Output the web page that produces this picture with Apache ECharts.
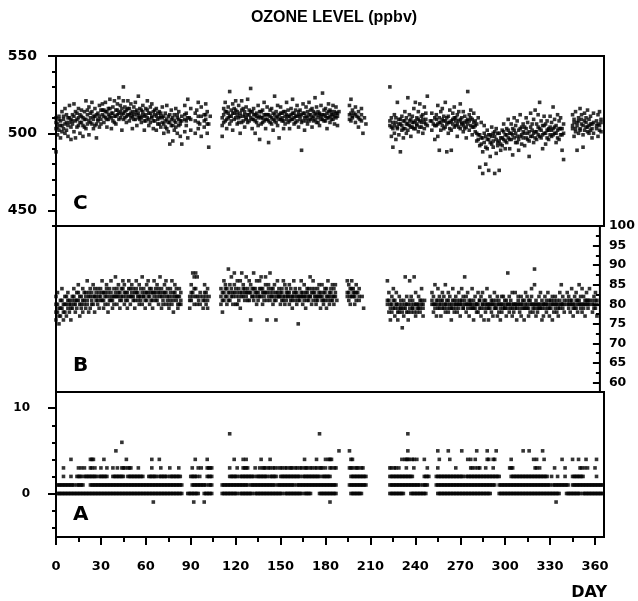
<!DOCTYPE html>
<html><head><meta charset="utf-8">
<script src="https://cdn.jsdelivr.net/npm/echarts@6/dist/echarts.min.js"></script>
<style>html,body{margin:0;padding:0;background:#fff}#chart{width:638px;height:601px}</style>
</head><body><div id="chart"></div>
<script>
// ---- tick / label values ----
const dayLabels = [0,30,60,90,120,150,180,210,240,270,300,330,360];
const dayMinorTicks = [15,45,75,105,135,165,195,225,255,285,315,345];
const cLabels = [450,500,550];
const cMinorTicks = [440,460,470,480,490,510,520,530,540];
const bLabels = [60,65,70,75,80,85,90,95,100];
const bMinorTicks = [62.5,67.5,72.5,77.5,82.5,87.5,92.5,97.5];
const aLabels = [0,10];
const aMinorTicks = [-4,-2,2,4,6,8];

// ---- Panel C: [day, value, value, ...] ----
const ozoneCRows = [
[0,488,503,510],[1,506,499],[2,511,502],[3,497,508],[4,514,505],[5,503,509],[6,516,500],[7,507,512],[8,498,505],[9,510,518],[10,504,496],
[11,512,506],[12,519,501],[13,508,497],[14,504,513],[15,510,516],[16,500,507],[17,511,515],[18,505,498],[19,514,509],[20,521,503],
[21,506,512],[22,499,517],[23,510,507],[24,514,520],[25,503,509],[26,511,516],[27,497,506],[28,513,508],[29,518,504],[30,509,515],
[31,512,519],[32,507,515],[33,520,510],[34,504,514],[35,516,509],[36,522,511],[37,513,503],[38,517,508],[39,511,521],[40,515,506],
[41,519,512],[42,509,523],[43,514,518],[44,502,516],[45,530,513,521],[46,510,517],[47,515,507],[48,521,512],[49,508,516],[50,513,519],
[51,511,503],[52,517,509],[53,514,520],[54,505,512],[55,524,510],[56,509,516],[57,515,507],[58,512,518],[59,502,511],[60,516,508],
[61,510,521],[62,513,505],[63,507,517],[64,519,511],[65,503,514],[66,512,508],[67,516,502],[68,509,513],[69,514,506],[70,504,511],
[71,510,517],[72,506,500],[73,513,508],[74,518,503],[75,501,511],[76,493,507],[77,509,515],[78,495,505],[79,512,502],[80,507,516],
[81,500,510],[82,514,505],[83,508,498],[84,493,511],[86,518,509,501],[87,513,505],[88,522,497],[89,510],[90,516,502],
[93,508,500],[94,515],[95,520,511,503],[96,506],[97,517,498],[99,512,504],[100,509,519],[101,514,500],[102,491,506],[103,511],
[111,505,498],[112,512,516],[113,508,520],[114,514,503],[115,517,510],[116,527,506],[117,511,515],[118,519,502],[119,509,513],[120,515,521],
[121,506,512],[122,518,510],[123,513,500],[124,521,507],[125,511,516],[126,504,514],[127,517,509],[128,512,522],[129,508,515],[130,529,510],
[131,514,503],[132,509,516],[133,500,512],[134,513,507],[135,518,505],[136,511,496],[137,506,514],[138,515,510],[139,520,508],[140,503,512],
[141,509,517],[142,512,494],[143,507,515],[144,516,510],[145,513,502],[146,524,508],[147,510,514],[148,505,518],[149,512,497],[150,517,509],
[151,508,513],[152,514,503],[153,506,511],[154,520,509],[155,511,515],[156,503,508],[157,516,512],[158,509,522],[159,513,506],[160,507,515],
[161,511,518],[162,504,512],[163,515,509],[164,489,507],[165,513,519],[166,510,502],[167,517,508],[168,506,514],[169,512,520],[170,509,515],
[171,516,504],[172,511,508],[173,523,513],[174,507,517],[175,514,510],[176,505,512],[177,518,509],[178,512,526],[179,508,515],[180,516,511],
[181,503,513],[182,510,519],[183,515,507],[184,509,514],[185,512,518],[186,506,511],[187,517,513],[188,511,505],[189,514],
[196,512,518],[197,522,508],[198,515,510],[199,513],[200,507,517],[201,511],[202,504,514],[203,509],[204,516,512],[205,500],[206,510],[207,506],
[223,530,505],[224,510,498],[225,503,491],[226,512,500],[227,507,496],[228,520,504],[229,499,509],[230,506,488],[231,502,511],[232,508,497],
[233,514,503],[234,500,510],[235,523,506],[236,505,512],[237,498,509],[238,511,504],[239,507,516],[240,503,520],
[241,510,506],[242,514,501],[243,508,519],[244,504,511],[245,512,500],[246,517,507],[247,509,513],[248,524,505],
[250,508],[251,513,502],[252,506],[253,510,496],[254,512,505],[255,498,518],[256,507,489],[257,514,502],[258,509,516],[259,503,511],[260,520,508],
[261,506,488],[262,511,500],[263,515,507],[264,502,489],[265,509,513],[266,517,504],[267,505,510],[268,512,498],[269,508,514],[270,503,519],
[271,510,506],[272,514,501],[273,507,511],[274,497,504],[275,527,509],[276,512,502],[277,505,515],[278,509,499],[279,513,504],[280,501,508],
[281,506,495],[282,499,510],[283,492,478],[284,497,507],[285,488,474],[286,494,505],[287,480,498],[288,502,490],[289,496,476],[290,485,499],
[291,504,493],[292,491,500],[293,498,474],[294,487,503],[295,500,494],[296,495,476],[297,489,497],[298,502,492],[299,496,506],[300,499,490],
[301,503,494],[302,497,509],[303,490,500],[304,506,496],[305,499,486],[306,502,510],[307,494,505],[308,508,498],[309,496,489],[310,503,512],
[311,499,493],[312,506,501],[313,492,504],[314,510,497],[315,500,507],[316,495,485],[317,504,513],[318,498,502],[319,509,494],[320,501,515],
[321,496,506],[322,512,499],[323,520,503],[324,497,508],[325,505,490],[326,500,511],[327,493,506],[328,508,502],[329,503,496],[330,511,499],
[331,498,507],[332,517,503],[333,500,509],[334,505,494],[335,512,502],[336,496,508],[337,503,510],[338,489,499],[339,483,506],
[345,505,512],[346,498,509],[347,514,503],[348,507,489],[349,510,500],[350,503,516],[351,512,506],[352,499,491],[353,508,513],[354,504,510],
[355,515,501],[356,509,505],[357,502,511],[358,506,497],[359,513,500],[361,508,503],[362,512,498],[363,505,514],[364,501,509]
];
// additional Panel C readings near the band centre: [day, value]
const ozoneCCore = [
[0,507],[1,504],[2,509],[3,505],[4,501],[5,511],[6,506],[7,502],[8,510],[9,507],[10,509],
[11,508],[12,511],[13,514],[14,509],[15,505],[16,512],[17,507],[18,510],[19,504],[20,509],[21,515],[22,508],[23,513],[24,506],[25,511],[26,505],[27,512],[28,509],[29,511],[30,506],
[31,515],[32,511],[33,514],[34,509],[35,512],[36,516],[37,510],[38,513],[39,507],[40,511],[41,515],[42,513],[43,510],[44,512],[45,509],[46,514],[47,511],[48,516],[49,512],[50,510],
[51,514],[52,512],[53,509],[54,515],[55,513],[56,511],[57,510],[58,514],[59,508],[60,512],[61,515],[62,509],[63,513],[64,510],[65,508],[66,515],[67,511],[68,506],[69,510],[70,513],
[71,507],[72,511],[73,504],[74,509],[75,507],[76,512],[77,505],[78,510],[79,508],[80,504],[81,512],[82,509],[83,506],[84,508],
[86,512],[87,508],[88,510],[90,509],[93,513],[95,507],[97,511],[99,508],[100,512],[101,506],
[111,510],[112,507],[113,514],[114,509],[115,513],[116,511],[117,508],[118,513],[119,516],[120,510],[121,514],[122,507],[123,511],[124,515],[125,508],[126,512],[127,510],[128,507],[129,512],[130,514],
[131,509],[132,512],[133,508],[134,511],[135,510],[136,514],[137,510],[138,507],[139,512],[140,509],[141,512],[142,508],[143,511],[144,506],[145,509],[146,512],[147,507],[148,511],[149,509],[150,513],
[151,510],[152,508],[153,514],[154,512],[155,507],[156,511],[157,509],[158,513],[159,510],[160,511],
[161,508],[162,514],[163,511],[164,512],[165,508],[166,513],[167,511],[168,510],[169,508],[170,512],[171,510],[172,514],[173,509],[174,512],[175,507],[176,513],[177,511],[178,509],[179,512],[180,508],
[181,510],[182,514],[183,511],[184,512],[185,509],[186,514],[187,510],[188,513],
[196,509],[197,513],[198,511],[200,512],[202,510],[204,508],
[223,508],[224,504],[225,507],[226,505],[227,510],[228,503],[229,506],[230,509],[231,505],[232,503],[233,508],[234,506],[235,502],[236,508],[237,504],[238,507],[239,503],[240,508],
[241,505],[242,509],[243,504],[244,507],[245,509],[246,503],[247,506],
[251,508],[253,505],[254,509],[255,506],[256,510],[257,507],[258,505],[259,508],[260,504],[261,510],[262,507],[263,503],[264,508],[265,506],[266,510],[267,508],[268,506],[269,504],[270,509],
[271,507],[272,505],[273,503],[274,508],[275,506],[276,508],[277,510],[278,504],[279,507],[280,505],
[281,500],[282,496],[283,499],[284,493],[285,497],[286,500],[287,491],[288,496],[289,499],[290,494],[291,498],[292,495],[293,501],[294,496],[295,492],[296,500],[297,493],[298,497],[299,501],[300,495],
[301,499],[302,502],[303,496],[304,500],[305,503],[306,497],[307,500],[308,494],[309,502],[310,498],[311,504],[312,497],[313,500],[314,503],[315,496],[316,501],[317,498],[318,506],[319,500],[320,497],
[321,501],[322,504],[323,498],[324,502],[325,499],[326,505],[327,500],[328,497],[329,502],[330,504],
[331,502],[332,499],[333,504],[334,500],[335,497],[336,503],[337,499],[338,503],[339,500],
[345,503],[346,507],[347,501],[348,505],[349,508],[350,502],[351,509],[352,505],[353,502],[354,507],[355,504],[356,500],[357,506],[358,503],[359,507],[361,505],[362,506],[363,502],[364,507]
];

// ---- Panel B: [day, value, value, ...] ----
const ozoneBRows = [
[0,76,80,82],[1,78,83],[2,75,79],[3,81,77],[4,79,84],[5,76,80],[6,82,78],[7,80,77],[8,83,79],[9,78,81],[10,80,76],
[11,82,79],[12,84,80],[13,81,78],[14,79,83],[15,85,81],[16,80,77],[17,82,79],[18,78,84],[19,81,80],[20,83,79],
[21,80,86],[22,82,78],[23,79,84],[24,81,83],[25,85,80],[26,78,82],[27,83,81],[28,80,84],[29,82,79],[30,84,81],
[31,81,86],[32,79,83],[33,83,80],[34,85,82],[35,80,78],[36,82,84],[37,86,81],[38,81,79],[39,84,82],[40,83,87],
[41,80,82],[42,82,85],[43,79,83],[44,84,81],[45,82,86],[46,85,80],[47,81,83],[48,83,79],[49,86,82],[50,80,84],
[51,82,85],[52,84,81],[53,79,83],[54,83,86],[55,81,82],[56,85,80],[57,82,84],[58,80,87],[59,84,82],[60,83,79],
[61,81,85],[62,86,83],[63,82,80],[64,84,81],[65,79,83],[66,83,86],[67,81,84],[68,85,82],[69,80,83],[70,82,87],
[71,84,79],[72,81,83],[73,83,85],[74,86,80],[75,82,84],[76,79,82],[77,84,81],[78,80,86],[79,83,78],[80,85,82],
[81,81,84],[82,82,79],[83,84,80],[84,80,83],
[90,82,79],[91,85,81],[92,88,83],[93,87,80],[94,88,84],[95,87,82],[96,81],[97,83,80],[99,82,79],[100,85,81],[101,80,83],[102,84,79],[103,82],
[111,80,84],[112,83,78],[113,86,81],[114,82,85],[115,84,80],[116,89,83],[117,81,85],[118,87,82],[119,83,80],[120,85,88],
[121,82,84],[122,80,86],[123,84,82],[124,86,79],[125,88,83],[126,82,85],[127,84,81],[128,87,83],[129,81,84],[130,83,86],
[131,85,76],[132,82,84],[133,88,81],[134,84,83],[135,80,86],[136,83,82],[137,86,84],[138,82,87],[139,84,80],[140,81,83],
[141,87,85],[142,83,76],[143,85,82],[144,88,81],[145,82,84],[146,84,80],[147,81,85],[148,83,76],[149,86,82],[150,82,84],
[151,80,83],[152,84,81],[153,82,86],[154,85,80],[155,81,83],[156,83,82],[157,80,85],[158,84,81],[159,82,79],[160,86,83],
[161,81,84],[162,83,80],[163,75,82],[164,84,81],[165,82,86],[166,80,83],[167,85,82],[168,83,79],[169,81,84],[170,84,82],
[171,82,87],[172,80,83],[173,86,81],[174,83,84],[175,81,80],[176,84,82],[177,82,85],[178,79,83],[179,85,81],[180,83,80],
[181,81,84],[182,84,79],[183,86,82],[184,80,83],[185,83,81],[186,82,85],[187,80,84],[188,85,82],[189,81],
[196,83,86],[197,81,85],[198,84,80],[199,86,82],[200,82,84],[201,80,83],[202,85,81],[203,83],[204,81,84],[206,82],[207,79],
[223,81,86],[224,78,83],[225,80,76],[226,82,78],[227,79,84],[228,77,81],[229,80,83],[230,76,79],[231,82,78],[232,79,81],
[233,74,80],[234,81,77],[235,87,79],[236,78,82],[237,80,76],[238,86,79],[239,82,78],[240,79,81],[241,87,80],[242,77,83],
[243,80,78],[244,82,79],[245,78,81],[246,84,80],[247,79,77],[248,81],
[253,80,83],[254,78,82],[255,85,80],[256,81,77],[257,79,84],[258,82,80],[259,77,81],[260,83,79],
[261,80,82],[262,85,78],[263,81,79],[264,78,83],[265,82,80],[266,79,76],[267,84,81],[268,80,78],[269,82,79],[270,78,81],
[271,83,80],[272,80,77],[273,81,84],[274,79,82],[275,87,80],[276,82,78],[277,80,83],[278,77,81],[279,81,79],[280,84,80],
[281,79,76],[282,82,80],[283,80,78],[284,78,83],[285,81,79],[286,77,82],[287,83,80],[288,79,76],[289,81,78],[290,80,84],
[291,76,79],[292,82,80],[293,78,81],[294,80,77],[295,83,79],[296,79,81],[297,77,82],[298,81,78],[299,80,76],[300,78,82],
[301,82,79],[302,79,81],[303,80,77],[304,88,80],[305,78,82],[306,81,79],[307,77,83],[308,80,78],[309,83,80],[310,79,76],
[311,81,82],[312,78,80],[313,82,77],[314,80,79],[315,76,81],[316,83,79],[317,79,82],[318,81,77],[319,78,80],[320,82,84],
[321,80,78],[322,89,85,79],[323,81,77],[324,78,80],[325,82,79],[326,79,83],[327,81,76],[328,77,80],[329,80,82],[330,78,81],
[331,83,79],[332,79,77],[333,81,80],[334,76,82],[335,80,78],[336,82,79],[337,78,81],[338,80,77],[339,83,79],[340,85,80],
[341,79,82],[342,81,78],[344,80,83],[345,82,79],[346,78,81],[347,84,80],[348,80,77],[349,82,79],[350,79,83],
[351,81,78],[352,85,80],[353,80,82],[354,78,84],[355,82,79],[356,80,77],[357,83,81],[358,79,80],[359,81,84],
[361,80,78],[362,82,79],[363,79,83],[364,81,77]
];
// additional Panel B readings near the band centre: [day, value]
const ozoneBCore = [
[0,78],[1,80],[2,77],[3,79],[4,81],[5,78],[6,80],[7,82],[8,81],[9,80],[10,79],[11,81],[12,82],[13,80],[14,81],[15,83],[16,82],[17,80],[18,81],[19,83],[20,82],
[21,81],[22,83],[23,82],[24,80],[25,82],[26,84],[27,82],[28,81],[29,83],[30,82],[31,83],[32,81],[33,82],[34,84],[35,83],[36,81],[37,83],[38,82],[39,80],[40,82],
[41,84],[42,83],[43,81],[44,82],[45,84],[46,83],[47,82],[48,81],[49,84],[50,82],[51,83],[52,82],[53,81],[54,84],[55,83],[56,82],[57,81],[58,83],[59,82],[60,81],
[61,83],[62,82],[63,84],[64,83],[65,81],[66,82],[67,83],[68,81],[69,84],[70,83],[71,82],[72,80],[73,82],[74,83],[75,81],[76,80],[77,83],[78,82],[79,81],[80,83],
[81,82],[82,80],[83,82],[84,81],
[90,81],[91,83],[92,82],[93,84],[94,82],[95,80],[97,82],[99,81],[100,83],[101,82],[102,81],
[111,82],[112,81],[113,83],[114,84],[115,82],[116,81],[117,83],[118,84],[119,82],[120,83],[121,80],[122,83],[123,81],[124,83],[125,82],[126,84],[127,83],[128,82],[129,83],[130,81],
[131,83],[132,82],[133,84],[134,82],[135,83],[136,81],[137,82],[138,84],[139,83],[140,82],[141,83],[142,81],[143,84],[144,83],[145,82],[146,83],[147,82],[148,81],[149,83],[150,82],
[151,82],[152,83],[153,81],[154,82],[155,84],[156,82],[157,83],[158,82],[159,81],[160,82],[161,83],[162,82],[163,81],[164,82],[165,83],[166,82],[167,81],[168,82],[169,83],[170,81],
[171,82],[172,84],[173,83],[174,82],[175,82],[176,81],[177,83],[178,82],[179,82],[180,81],[181,83],[182,82],[183,81],[184,82],[185,84],[186,81],[187,82],[188,83],
[196,82],[197,83],[198,82],[199,84],[200,83],[201,82],[202,83],[204,82],
[223,80],[224,81],[225,79],[226,80],[227,81],[228,79],[229,80],[230,78],[231,80],[232,79],[233,78],[234,79],[235,80],[236,80],[237,78],[238,81],[239,80],[240,79],[241,78],[242,80],
[243,79],[244,80],[245,79],[246,81],[247,80],
[253,81],[254,80],[255,79],[256,80],[257,81],[258,79],[259,80],[260,81],[261,79],[262,80],[263,80],[264,81],[265,79],[266,80],[267,79],[268,81],[269,80],[270,80],
[271,79],[272,81],[273,80],[274,79],[275,81],[276,80],[277,79],[278,80],[279,80],[280,79],[281,81],[282,79],[283,80],[284,80],[285,81],[286,79],[287,80],[288,81],[289,80],[290,79],
[291,80],[292,79],[293,80],[294,81],[295,80],[296,79],[297,80],[298,80],[299,79],[300,80],[301,80],[302,79],[303,81],[304,79],[305,80],[306,80],[307,79],[308,80],[309,79],[310,80],
[311,80],[312,79],[313,80],[314,81],[315,79],[316,80],[317,80],[318,79],[319,81],[320,80],[321,79],[322,80],[323,80],[324,79],[325,80],[326,80],[327,79],[328,80],[329,79],[330,80],
[331,80],[332,81],[333,79],[334,80],[335,81],[336,80],[337,80],[338,79],[339,81],[340,80],[341,80],[342,80],[344,81],[345,80],[346,80],[347,81],[348,79],[349,80],[350,81],
[351,80],[352,81],[353,79],[354,80],[355,80],[356,81],[357,80],[358,81],[359,80],[361,81],[362,80],[363,81],[364,80]
];

// ---- Panel A: days on which each integer level occurs ----
const aLevelMinus1Days = [65,92,99,183,334];
const aLevel0Days = [1,2,3,4,5,6,7,8,9,10,11,12,13,14,15,16,17,18,19,20,21,22,23,24,25,26,27,28,29,30,31,32,33,34,35,36,37,38,39,40,41,42,43,44,45,46,47,48,49,50,51,52,53,54,55,56,57,58,59,60,61,62,63,64,65,66,67,68,69,70,71,72,73,74,75,76,77,78,79,80,81,82,83,84,
88,89,90,91,92,93,94,95,99,100,101,102,103,104,
111,112,113,114,115,116,117,118,119,120,121,123,124,125,126,127,128,129,130,131,
133,134,135,136,137,138,139,140,141,142,143,144,145,146,147,148,149,150,151,153,154,155,156,157,158,159,160,161,162,163,164,
166,167,168,169,170,176,177,178,179,180,181,182,183,184,185,186,187,197,198,199,200,201,202,203,204,
223,224,225,226,227,228,229,230,231,232,237,238,239,240,241,242,243,244,245,246,247,
255,256,257,258,259,260,261,262,263,264,265,266,267,268,269,270,271,272,273,274,275,276,277,278,279,280,281,282,283,284,285,286,287,288,289,290,
296,297,298,299,300,301,302,303,304,305,306,307,308,309,310,311,312,313,314,315,316,317,318,319,320,321,322,323,324,325,326,327,328,329,330,331,332,333,334,335,336,
341,342,343,344,345,346,347,348,349,350,352,353,354,355,356,357,358,359,360,361,362,363,364,365];
const aLevel1Days = [1,2,3,4,5,6,7,8,9,10,11,12,14,15,16,17,18,
23,24,25,26,27,28,29,30,31,32,33,34,35,36,37,38,39,40,41,42,43,44,45,46,47,48,49,50,51,52,53,54,55,56,57,58,59,60,61,62,63,64,65,66,67,68,69,70,71,72,73,74,75,76,77,78,79,80,81,82,83,84,
91,92,93,94,95,96,97,98,99,100,102,103,104,
111,112,113,114,115,116,117,118,119,120,121,122,123,124,125,126,127,128,130,131,132,133,134,135,136,137,138,139,140,141,142,143,144,145,146,
148,149,150,151,152,153,154,155,156,157,158,159,161,162,163,164,165,166,167,168,169,170,171,172,173,174,175,176,177,178,179,180,181,182,183,184,185,186,187,
196,197,198,199,200,201,202,203,204,205,206,207,
223,224,225,226,227,228,229,230,231,232,233,234,235,236,237,238,239,240,241,242,243,245,246,247,248,
254,255,256,257,258,259,260,261,262,263,264,265,266,267,268,269,270,271,272,273,274,275,276,277,278,279,280,281,282,283,284,285,286,287,288,289,290,291,292,293,
296,297,298,299,300,301,302,303,304,305,306,307,308,309,310,311,312,313,314,315,316,317,318,319,320,321,322,323,324,325,326,327,328,329,330,
332,333,334,335,336,337,338,339,340,341,342,345,346,347,348,349,350,351,352,353,354,355,356,357,358,359,360,361,362,363,364,365];
const aLevel2Days = [5,10,14,15,16,17,19,20,21,22,23,24,25,26,27,29,30,31,32,33,34,38,39,40,41,42,43,44,45,
48,49,50,51,52,53,54,55,56,57,58,62,63,64,65,66,67,69,70,71,72,73,74,76,77,78,79,80,81,82,83,
90,91,92,93,94,96,101,102,103,104,116,117,118,119,120,121,123,124,125,126,127,128,129,130,131,132,
134,135,136,137,138,139,140,141,143,144,145,146,147,150,151,152,153,154,155,156,157,158,159,160,161,162,163,
165,166,167,168,169,170,171,172,173,174,175,176,178,179,180,181,182,183,
197,198,199,200,201,202,203,204,205,206,207,
223,224,225,226,227,228,229,230,231,232,233,234,235,236,237,238,246,247,248,249,
254,255,256,257,258,259,260,261,262,263,264,265,266,267,268,269,270,271,272,
274,275,276,277,278,279,280,281,282,283,284,285,286,287,288,289,290,291,292,293,294,295,296,
304,305,306,307,308,309,310,311,312,313,314,315,316,317,318,319,320,321,322,323,324,325,326,327,328,
331,335,340,345,346,347,348,349,350,351,352,361];
const aLevel3Days = [5,15,17,19,23,24,26,30,34,38,41,44,45,46,48,49,50,55,64,70,76,82,91,95,97,101,102,103,104,
116,121,125,126,127,128,133,136,138,139,140,142,143,145,146,148,150,151,153,154,156,157,158,160,161,163,
164,166,167,168,170,171,173,174,176,177,178,180,183,184,186,187,196,197,198,200,201,202,204,205,
223,224,226,227,229,234,239,248,255,267,277,278,280,282,283,287,292,303,304,305,320,321,323,333,340,350,351,353,355,360];
const aLevel4Days = [10,23,24,25,32,47,64,69,93,101,119,125,127,137,143,166,174,180,182,183,184,197,198,
231,233,234,235,236,238,239,241,246,256,263,275,277,280,288,289,292,293,304,319,321,326,338,345,349,354,361];
const aLevel5Days = [40,189,196,235,255,262,271,281,288,294,312,316,325];
const aLevel6Days = [44];
const aLevel7Days = [116,176,235];

// ---- build series data ----
function flattenRows(rows){ const out=[]; rows.forEach(r=>{ for(let i=1;i<r.length;i++) out.push([r[0], r[i]]); }); return out; }
const cData = flattenRows(ozoneCRows).concat(flattenRows(ozoneCCore));
const bData = flattenRows(ozoneBRows).concat(flattenRows(ozoneBCore));
const aLevels = [[-1,aLevelMinus1Days],[0,aLevel0Days],[1,aLevel1Days],[2,aLevel2Days],[3,aLevel3Days],[4,aLevel4Days],[5,aLevel5Days],[6,aLevel6Days],[7,aLevel7Days]];
const aData = []; aLevels.forEach(([lv,days])=>days.forEach(d=>aData.push([d,lv])));

const FONT = 'DejaVu Sans';
const K = '#000';
const noLine = {show:false,onZero:false};
const hiddenX = (g)=>({type:'value',gridIndex:g,min:0,max:366,show:false,axisLine:noLine});
const gridBox = (top,h)=>({left:56,top:top,width:548,height:h,show:true,borderColor:K,borderWidth:2,backgroundColor:'transparent'});
const DOT = 3.6;

const option = {
  animation:false,
  backgroundColor:'#fff',
  grid:[gridBox(56,170),gridBox(226,166),gridBox(392,145)],
  xAxis:[
    hiddenX(0), hiddenX(1),
    {type:'value',gridIndex:2,min:0,max:366,position:'bottom',
      axisLine:noLine,splitLine:{show:false},
      axisTick:{show:true,length:8,inside:false,customValues:dayLabels,lineStyle:{color:K,width:2}},
      axisLabel:{show:true,customValues:dayLabels,margin:23,color:K,fontFamily:FONT,fontWeight:'bold',fontSize:13}},
    {type:'value',gridIndex:2,min:0,max:366,position:'bottom',
      axisLine:noLine,splitLine:{show:false},axisLabel:{show:false},
      axisTick:{show:true,length:5,inside:false,customValues:dayMinorTicks,lineStyle:{color:K,width:2}}}
  ],
  yAxis:[
    {type:'value',gridIndex:0,min:440,max:550,position:'left',
      axisLine:noLine,splitLine:{show:false},
      axisTick:{show:true,length:8,customValues:cLabels,lineStyle:{color:K,width:2}},
      axisLabel:{show:true,customValues:cLabels,margin:19,color:K,fontFamily:FONT,fontWeight:'bold',fontSize:14}},
    {type:'value',gridIndex:0,min:440,max:550,position:'left',
      axisLine:noLine,splitLine:{show:false},axisLabel:{show:false},
      axisTick:{show:true,length:4,customValues:cMinorTicks,lineStyle:{color:K,width:2}}},
    {type:'value',gridIndex:1,min:57.6,max:100,position:'right',
      axisLine:noLine,splitLine:{show:false},
      axisTick:{show:true,inside:true,length:7,customValues:bLabels,lineStyle:{color:K,width:2}},
      axisLabel:{show:true,inside:false,customValues:bLabels,margin:9,color:K,fontFamily:FONT,fontWeight:'bold',fontSize:12.5}},
    {type:'value',gridIndex:1,min:57.6,max:100,position:'right',
      axisLine:noLine,splitLine:{show:false},axisLabel:{show:false},
      axisTick:{show:true,inside:true,length:4,customValues:bMinorTicks,lineStyle:{color:K,width:2}}},
    {type:'value',gridIndex:2,min:-5.1,max:11.9,position:'left',
      axisLine:noLine,splitLine:{show:false},
      axisTick:{show:true,length:8,customValues:aLabels,lineStyle:{color:K,width:2}},
      axisLabel:{show:true,customValues:aLabels,margin:26,color:K,fontFamily:FONT,fontWeight:'bold',fontSize:12}},
    {type:'value',gridIndex:2,min:-5.1,max:11.9,position:'left',
      axisLine:noLine,splitLine:{show:false},axisLabel:{show:false},
      axisTick:{show:true,length:4,customValues:aMinorTicks,lineStyle:{color:K,width:2}}}
  ],
  series:[
    {name:'C',type:'scatter',xAxisIndex:0,yAxisIndex:0,symbol:'rect',symbolSize:DOT,itemStyle:{color:K},data:cData,silent:true},
    {name:'B',type:'scatter',xAxisIndex:1,yAxisIndex:2,symbol:'rect',symbolSize:DOT,itemStyle:{color:K},data:bData,silent:true},
    {name:'A',type:'scatter',xAxisIndex:2,yAxisIndex:4,symbol:'rect',symbolSize:DOT,itemStyle:{color:K},data:aData,silent:true}
  ],
  graphic:[
    {type:'text',x:334,y:18,style:{text:'OZONE LEVEL (ppbv)',fill:K,font:'bold 16px "Liberation Sans", Arial, sans-serif',textAlign:'center',textVerticalAlign:'middle'}},
    {type:'text',x:73,y:204,style:{text:'C',fill:K,font:'bold 20px "DejaVu Sans"',textAlign:'left',textVerticalAlign:'middle'}},
    {type:'text',x:73,y:366,style:{text:'B',fill:K,font:'bold 20px "DejaVu Sans"',textAlign:'left',textVerticalAlign:'middle'}},
    {type:'text',x:73,y:515,style:{text:'A',fill:K,font:'bold 20px "DejaVu Sans"',textAlign:'left',textVerticalAlign:'middle'}},
    {type:'text',x:607,y:593,style:{text:'DAY',fill:K,font:'bold 16px "DejaVu Sans"',textAlign:'right',textVerticalAlign:'middle'}}
  ]
};
const chart = echarts.init(document.getElementById('chart'),null,{renderer:'canvas'});
chart.setOption(option);
</script>
</body></html>
